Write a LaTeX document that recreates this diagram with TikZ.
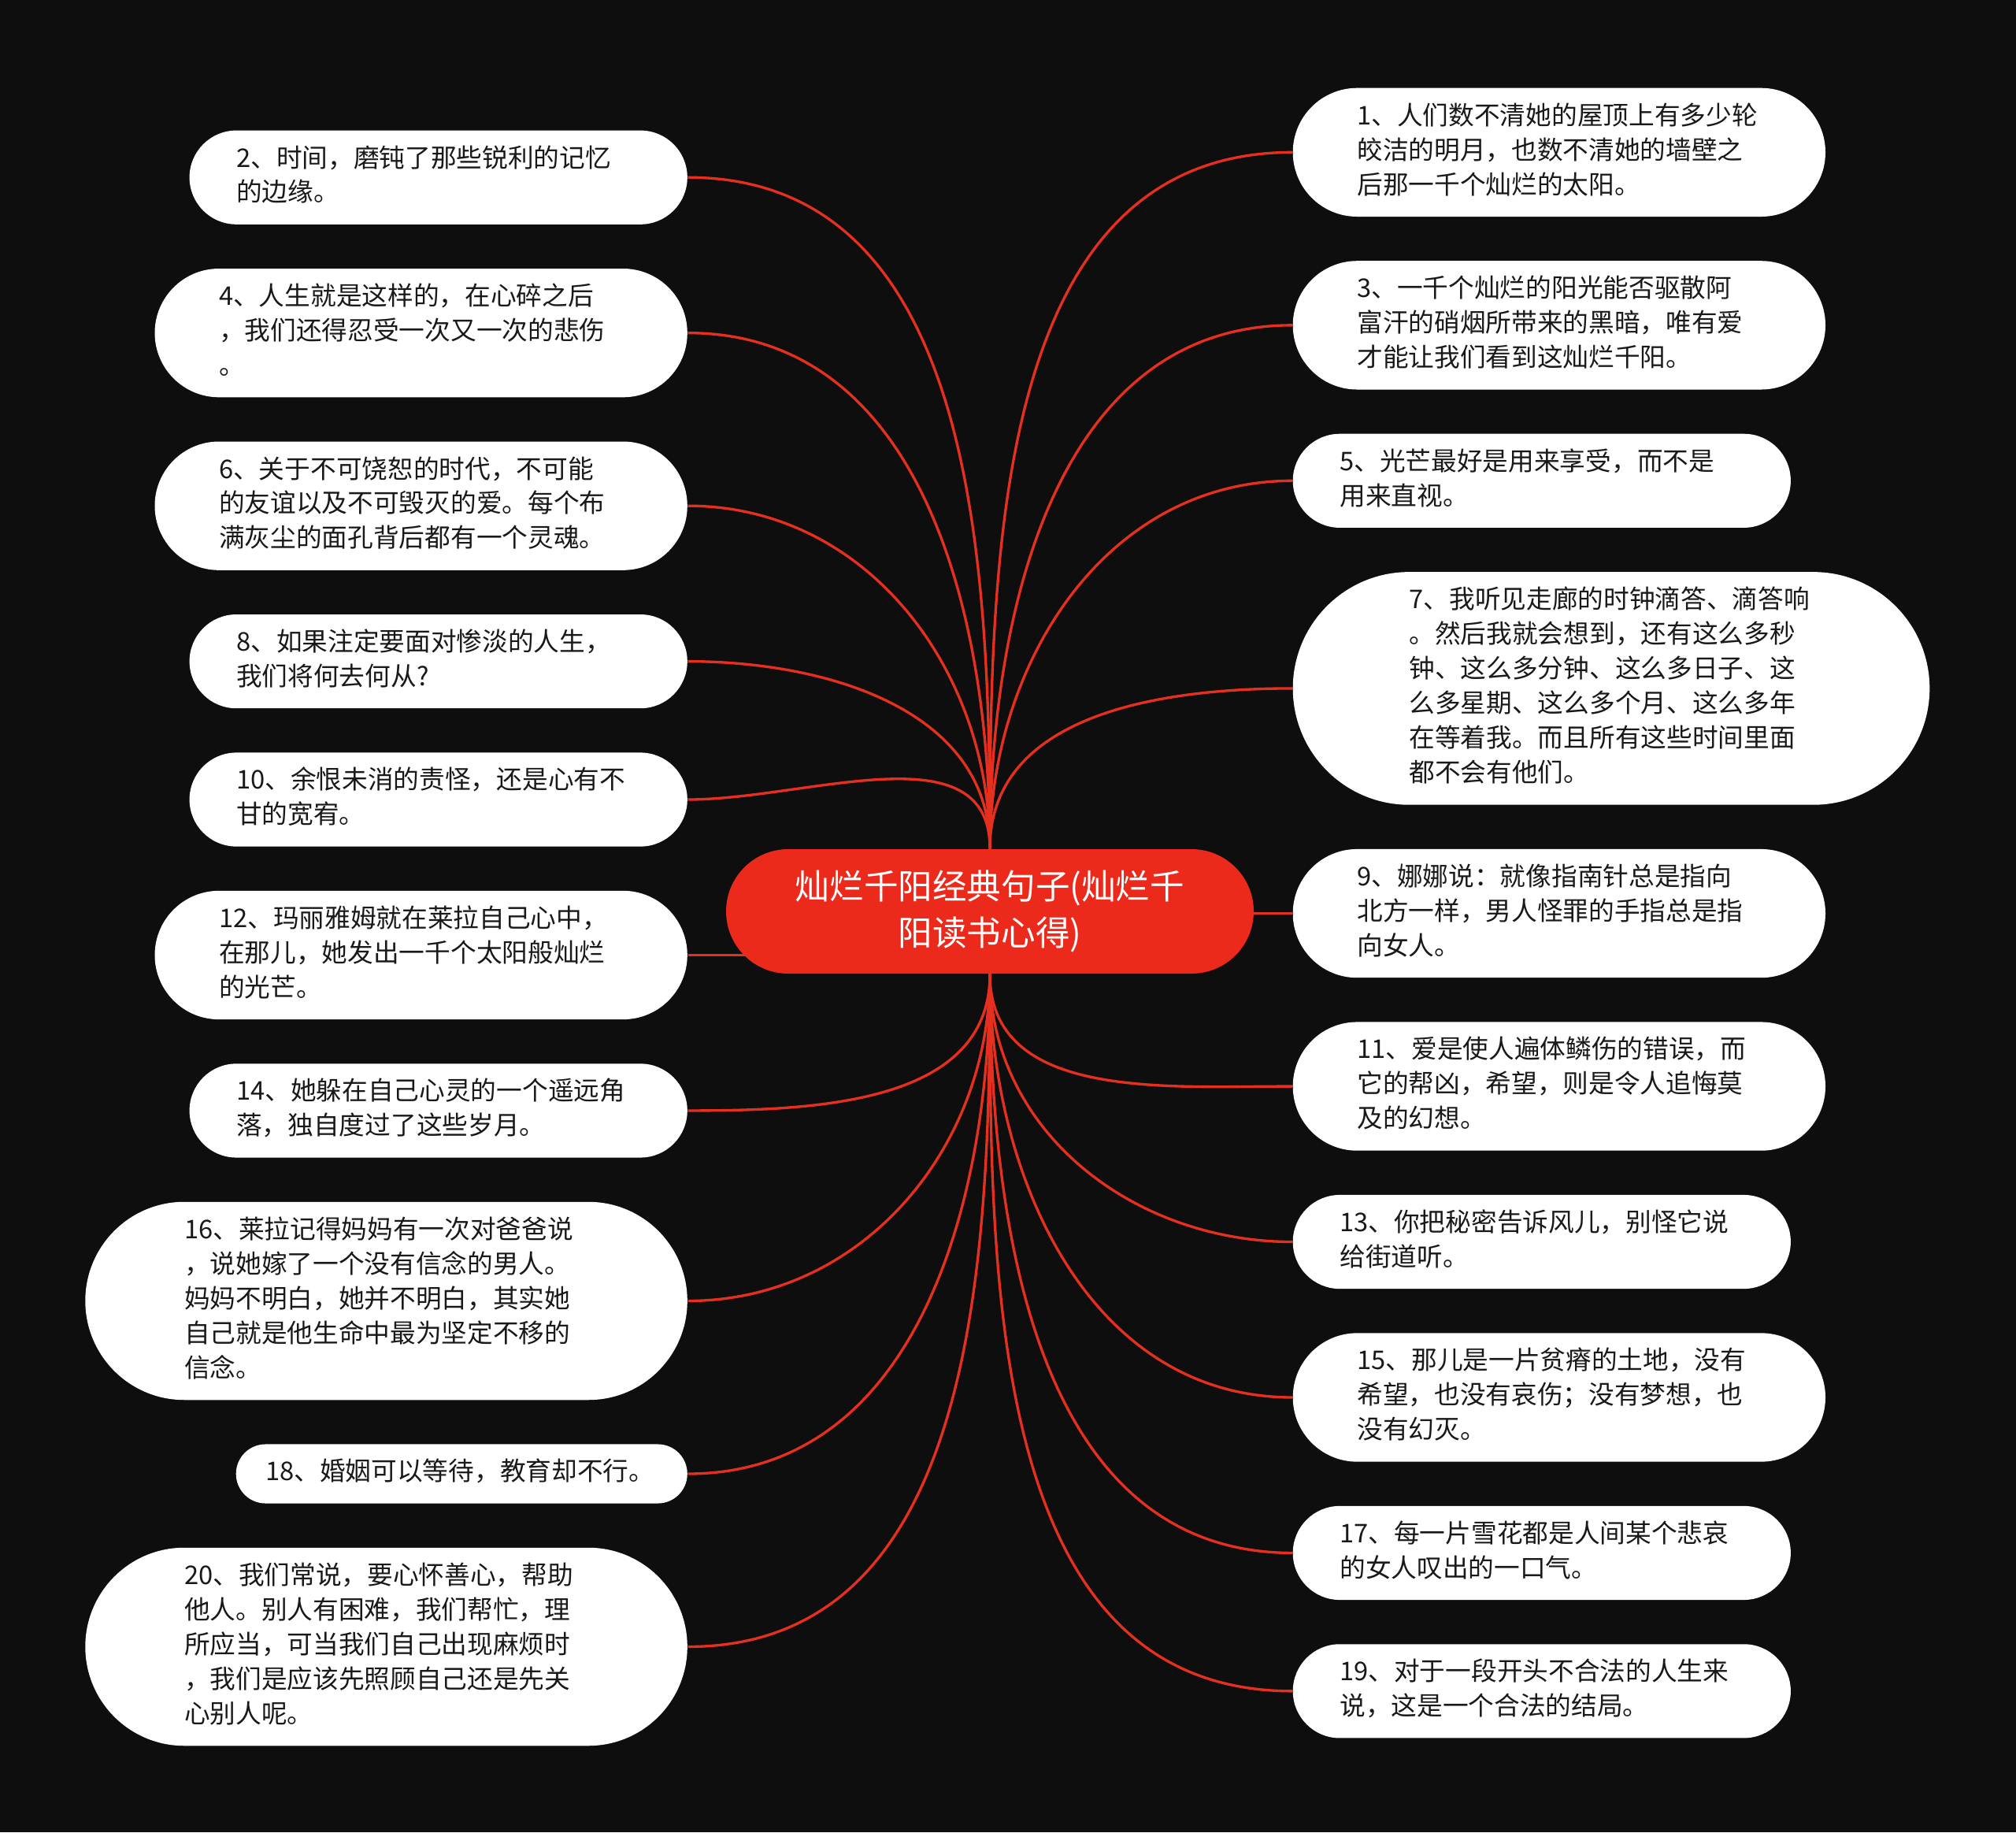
\documentclass[tikz,border=0pt]{standalone}
\usepackage{fontspec}
\setmainfont{Noto Sans CJK SC}
\usepackage{xcolor}
\usetikzlibrary{positioning}
\definecolor{mmbg}{HTML}{0E0E0E}
\definecolor{mmred}{HTML}{EC2A1C}
\definecolor{mmline}{HTML}{E5301F}
\pgfdeclarelayer{edges}
\pgfsetlayers{edges,main}
\tikzset{
  mm/root/.style={
    rectangle,
    rounded corners=0.79cm,
    fill=mmred,
    text=white,
    text width=5.12cm,
    align=center,
    minimum height=1.58cm,
    inner xsep=0.79cm,
    inner ysep=0pt,
    font=\fontsize{12.4pt}{16.7pt}\selectfont
  },
  % #1 = number of text lines
  mm/leaf/.style={
    rectangle,
    fill=white,
    text=black!90,
    text width=5.13cm,
    align=left,
    minimum height={(0.441*#1+0.31)*1cm},
    rounded corners={(0.2205*#1+0.155)*1cm},
    inner xsep={(0.2205*#1+0.155)*1cm},
    inner ysep=0pt,
    font=\fontsize{9.3pt}{12.5pt}\selectfont,
    execute at begin node=\strut,
    execute at end node=\strut
  },
  mm/left/.style 2 args={mm/leaf=#2, below=5.48mm of #1.south east, anchor=north east},
  mm/right/.style 2 args={mm/leaf=#2, below=5.48mm of #1.south west, anchor=north west},
  mm/branch/.style={draw=mmline, line width=0.95pt}
}

\begin{document}
\begin{tikzpicture}

\begin{pgfonlayer}{edges}
\fill[mmbg] (0,0) rectangle (25.6,-23.26);
\end{pgfonlayer}
\useasboundingbox (0,0) rectangle (25.6,-23.26);

\node[mm/root] (root) at (12.57,-11.57) {灿烂千阳经典句子(灿烂千\\阳读书心得)};

% --- left column (even numbers)
\node[mm/leaf=2, anchor=north east] (q2) at (8.735,-1.649) {2、时间，磨钝了那些锐利的记忆\\的边缘。};
\node[mm/left={q2}{3}] (q4) {4、人生就是这样的，在心碎之后\\，我们还得忍受一次又一次的悲伤\\。};
\node[mm/left={q4}{3}] (q6) {6、关于不可饶恕的时代，不可能\\的友谊以及不可毁灭的爱。每个布\\满灰尘的面孔背后都有一个灵魂。};
\node[mm/left={q6}{2}] (q8) {8、如果注定要面对惨淡的人生，\\我们将何去何从?};
\node[mm/left={q8}{2}] (q10) {10、余恨未消的责怪，还是心有不\\甘的宽宥。};
\node[mm/left={q10}{3}] (q12) {12、玛丽雅姆就在莱拉自己心中，\\在那儿，她发出一千个太阳般灿烂\\的光芒。};
\node[mm/left={q12}{2}] (q14) {14、她躲在自己心灵的一个遥远角\\落，独自度过了这些岁月。};
\node[mm/left={q14}{5}] (q16) {16、莱拉记得妈妈有一次对爸爸说\\，说她嫁了一个没有信念的男人。\\妈妈不明白，她并不明白，其实她\\自己就是他生命中最为坚定不移的\\信念。};
\node[mm/left={q16}{1}, text width=4.98cm] (q18) {18、婚姻可以等待，教育却不行。};
\node[mm/left={q18}{5}] (q20) {20、我们常说，要心怀善心，帮助\\他人。别人有困难，我们帮忙，理\\所应当，可当我们自己出现麻烦时\\，我们是应该先照顾自己还是先关\\心别人呢。};

% --- right column (odd numbers)
\node[mm/leaf=3, anchor=north west] (q1) at (16.41,-1.11) {1、人们数不清她的屋顶上有多少轮\\皎洁的明月，也数不清她的墙壁之\\后那一千个灿烂的太阳。};
\node[mm/right={q1}{3}] (q3) {3、一千个灿烂的阳光能否驱散阿\\富汗的硝烟所带来的黑暗，唯有爱\\才能让我们看到这灿烂千阳。};
\node[mm/right={q3}{2}] (q5) {5、光芒最好是用来享受，而不是\\用来直视。};
\node[mm/right={q5}{6}] (q7) {7、我听见走廊的时钟滴答、滴答响\\。然后我就会想到，还有这么多秒\\钟、这么多分钟、这么多日子、这\\么多星期、这么多个月、这么多年\\在等着我。而且所有这些时间里面\\都不会有他们。};
\node[mm/right={q7}{3}] (q9) {9、娜娜说：就像指南针总是指向\\北方一样，男人怪罪的手指总是指\\向女人。};
\node[mm/right={q9}{3}] (q11) {11、爱是使人遍体鳞伤的错误，而\\它的帮凶，希望，则是令人追悔莫\\及的幻想。};
\node[mm/right={q11}{2}] (q13) {13、你把秘密告诉风儿，别怪它说\\给街道听。};
\node[mm/right={q13}{3}] (q15) {15、那儿是一片贫瘠的土地，没有\\希望，也没有哀伤；没有梦想，也\\没有幻灭。};
\node[mm/right={q15}{2}] (q17) {17、每一片雪花都是人间某个悲哀\\的女人叹出的一口气。};
\node[mm/right={q17}{2}] (q19) {19、对于一段开头不合法的人生来\\说，这是一个合法的结局。};

% --- branches
\begin{pgfonlayer}{edges}
\foreach \q in {q2,q4,q6,q8,q10}
  \draw[mm/branch] (root.north) to[out=90,in=0] (\q.east);
\draw[mm/branch] (q12.east) -- (q12.east -| root.center);
\foreach \q in {q14,q16,q18,q20}
  \draw[mm/branch] (root.south) to[out=-90,in=0] (\q.east);
\foreach \q in {q1,q3,q5,q7}
  \draw[mm/branch] (root.north) to[out=90,in=180] (\q.west);
\draw[mm/branch] (q9.west) -- (q9.west -| root.center);
\foreach \q in {q11,q13,q15,q17,q19}
  \draw[mm/branch] (root.south) to[out=-90,in=180] (\q.west);
\end{pgfonlayer}

\end{tikzpicture}
\end{document}
